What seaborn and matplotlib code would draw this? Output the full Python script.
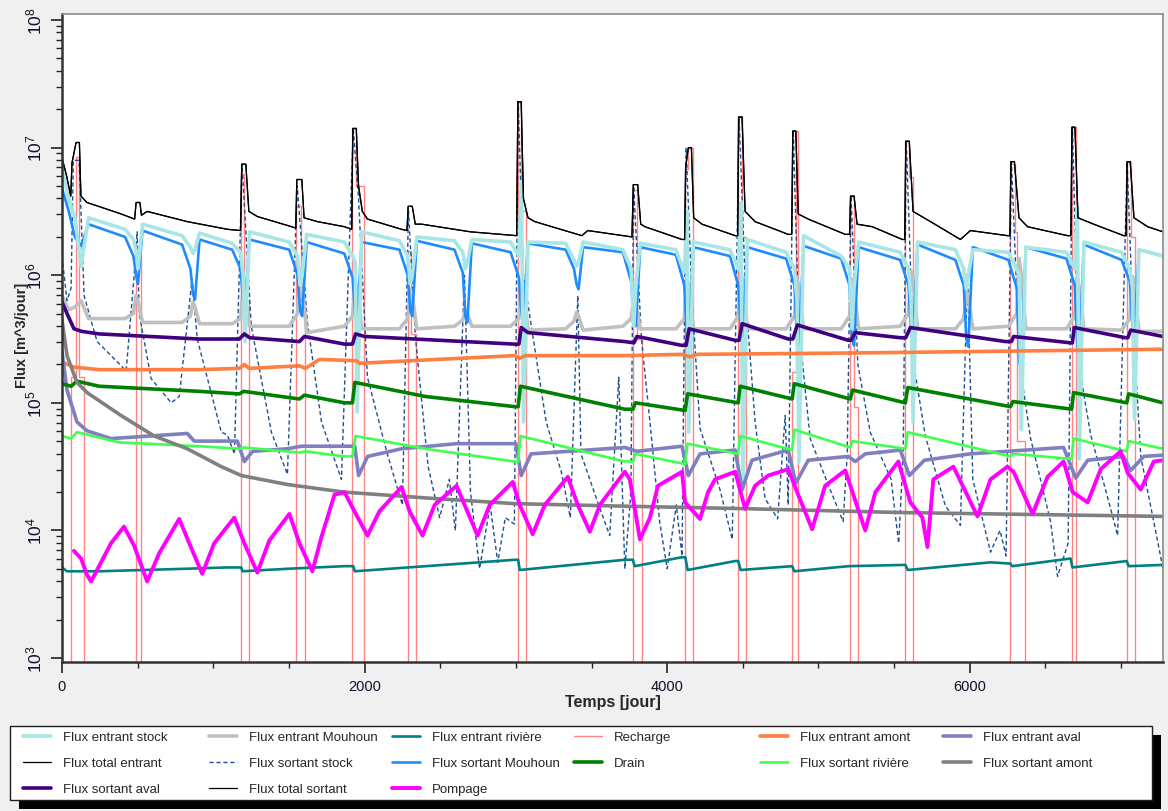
import numpy as np
import matplotlib
matplotlib.use("Agg")
import matplotlib.pyplot as plt
import seaborn as sns
from matplotlib.patches import Rectangle
from matplotlib.ticker import LogLocator, NullFormatter, MultipleLocator, LogFormatterMathtext

# ---- data (flux values stored as log10 of m^3/jour, time in jours) ----

# shared time grid for the seasonal series (5 points around each yearly low)
season_days = [0, 45, 85, 126, 175,
               417, 472, 489, 502, 532,
               794, 849, 866, 879, 909,
               1125, 1180, 1197, 1210, 1240,
               1502, 1557, 1574, 1587, 1617,
               1866, 1921, 1938, 1951, 1981,
               2230, 2285, 2302, 2315, 2345,
               2594, 2649, 2666, 2679, 2709,
               2965, 3020, 3037, 3050, 3080,
               3329, 3384, 3401, 3414, 3444,
               3707, 3762, 3779, 3792, 3822,
               4058, 4113, 4130, 4143, 4173,
               4415, 4470, 4487, 4500, 4530,
               4786, 4841, 4858, 4871, 4901,
               5150, 5205, 5222, 5235, 5265,
               5540, 5595, 5612, 5625, 5655,
               5905, 5960, 5977, 5990, 6020,
               6255, 6310, 6327, 6340, 6370,
               6639, 6694, 6711, 6724, 6754,
               7003, 7058, 7075, 7088, 7118,
               7277]

sortant_mouhoun = [6.68, 6.50, 6.30, 6.23, 6.40,
                   6.30, 6.15, 6.00, 5.93, 6.35,
                   6.24, 6.05, 5.85, 5.81, 6.28,
                   6.20, 6.05, 5.80, 5.76, 6.28,
                   6.20, 6.00, 5.72, 5.68, 6.26,
                   6.17, 5.98, 5.70, 5.66, 6.26,
                   6.20, 6.00, 5.72, 5.68, 6.27,
                   6.20, 6.02, 5.68, 5.63, 6.25,
                   6.18, 5.98, 5.70, 5.66, 6.25,
                   6.20, 6.05, 5.93, 5.89, 6.22,
                   6.18, 5.95, 5.65, 5.60, 6.22,
                   6.16, 5.92, 5.52, 5.48, 6.22,
                   6.15, 5.92, 5.56, 5.52, 6.22,
                   6.13, 5.92, 5.50, 5.45, 6.23,
                   6.13, 5.92, 5.50, 5.45, 6.22,
                   6.12, 5.92, 5.55, 5.50, 6.24,
                   6.12, 5.92, 5.50, 5.44, 6.22,
                   6.12, 5.90, 5.32, 5.26, 6.22,
                   6.13, 5.92, 5.42, 5.37, 6.24,
                   6.12, 5.95, 5.60, 5.55, 6.20,
                   6.15]

entrant_stock = [6.83, 6.60, 6.45, 6.07, 6.45,
                 6.36, 6.28, 6.20, 6.05, 6.40,
                 6.31, 6.22, 6.17, 6.20, 6.33,
                 6.25, 6.18, 6.00, 5.48, 6.34,
                 6.26, 6.15, 5.92, 6.00, 6.32,
                 6.26, 6.15, 6.10, 4.93, 6.34,
                 6.27, 6.15, 5.93, 6.00, 6.30,
                 6.27, 6.18, 6.05, 6.10, 6.28,
                 6.26, 6.15, 6.73, 4.85, 6.26,
                 6.25, 6.12, 6.07, 6.10, 6.26,
                 6.20, 6.05, 5.60, 5.90, 6.25,
                 6.20, 6.02, 6.50, 4.77, 6.26,
                 6.20, 6.05, 6.57, 4.32, 6.28,
                 6.18, 6.05, 5.80, 4.54, 6.31,
                 6.15, 6.05, 5.58, 5.90, 6.26,
                 6.18, 6.05, 5.80, 4.85, 6.26,
                 6.20, 6.05, 5.89, 6.00, 6.20,
                 6.18, 6.05, 6.00, 4.79, 6.22,
                 6.18, 6.05, 6.54, 4.56, 6.26,
                 6.18, 6.05, 5.90, 4.87, 6.20,
                 6.15]

entrant_mouhoun = [5.84, 5.73, 5.75, 5.80, 5.66,
                   5.66, 5.70, 5.84, 5.80, 5.63,
                   5.63, 5.68, 5.79, 5.75, 5.62,
                   5.62, 5.66, 5.89, 5.85, 5.60,
                   5.60, 5.70, 6.05, 5.95, 5.55,
                   5.60, 5.68, 5.95, 5.90, 5.58,
                   5.58, 5.66, 5.89, 5.85, 5.58,
                   5.60, 5.65, 5.73, 5.70, 5.60,
                   5.60, 5.66, 5.95, 5.90, 5.57,
                   5.58, 5.64, 5.71, 5.68, 5.57,
                   5.60, 5.66, 5.81, 5.78, 5.58,
                   5.58, 5.66, 5.99, 5.90, 5.58,
                   5.58, 5.68, 6.02, 5.95, 5.58,
                   5.58, 5.68, 5.97, 5.90, 5.58,
                   5.58, 5.68, 5.97, 5.90, 5.58,
                   5.60, 5.70, 6.03, 5.95, 5.58,
                   5.58, 5.66, 5.87, 5.82, 5.58,
                   5.60, 5.70, 6.13, 6.00, 5.58,
                   5.58, 5.68, 5.97, 5.90, 5.58,
                   5.57, 5.66, 5.99, 5.90, 5.56,
                   5.56]

total_days = [0, 30, 58, 66, 93, 115, 125, 165, 391, 480, 490, 515, 525, 563,
              828, 1092, 1180, 1188, 1215, 1235, 1291, 1490, 1545, 1552, 1585,
              1600, 1688, 1867, 1915, 1922, 1945, 1960, 1985, 2019, 2244, 2280,
              2288, 2315, 2335, 2377, 2700, 3005, 3013, 3035, 3050, 3080, 3125,
              3436, 3475, 3767, 3776, 3805, 3825, 3853, 4098, 4115, 4122, 4140,
              4160, 4175, 4230, 4449, 4466, 4472, 4495, 4515, 4581, 4800, 4823,
              4830, 4850, 4866, 4932, 5177, 5205, 5212, 5235, 5255, 5356, 5554,
              5570, 5577, 5600, 5625, 5740, 5938, 6004, 6249, 6265, 6272, 6295,
              6325, 6382, 6646, 6668, 6675, 6695, 6715, 6819, 7017, 7033, 7040,
              7060, 7085, 7176, 7277]
total_flux = [6.92, 6.78, 6.62, 6.88, 7.04, 7.04, 6.62, 6.57, 6.48, 6.44, 6.57,
              6.57, 6.47, 6.50, 6.42, 6.36, 6.35, 6.87, 6.87, 6.50, 6.46, 6.39,
              6.37, 6.75, 6.75, 6.45, 6.42, 6.38, 6.36, 7.15, 7.15, 6.70, 6.50,
              6.44, 6.36, 6.35, 6.54, 6.54, 6.40, 6.40, 6.34, 6.31, 7.36, 7.36,
              6.60, 6.45, 6.42, 6.31, 6.35, 6.30, 6.71, 6.71, 6.40, 6.38, 6.28,
              6.28, 6.85, 7.00, 7.00, 6.45, 6.40, 6.31, 6.31, 7.24, 7.24, 6.50,
              6.42, 6.32, 6.32, 7.13, 7.13, 6.48, 6.44, 6.32, 6.32, 6.62, 6.62,
              6.40, 6.38, 6.28, 6.28, 7.05, 7.05, 6.50, 6.42, 6.28, 6.35, 6.31,
              6.31, 6.89, 6.89, 6.45, 6.38, 6.31, 6.31, 7.16, 7.16, 6.45, 6.40,
              6.31, 6.31, 6.89, 6.89, 6.45, 6.38, 6.34]

stock_out_days = [0, 33, 60, 75, 113, 146, 232, 391, 424, 477, 497, 510, 589, 722,
                  775, 860, 894, 1053, 1092, 1140, 1190, 1251, 1384, 1490, 1555,
                  1622, 1715, 1847, 1925, 1960, 2019, 2150, 2250, 2290, 2337, 2420,
                  2496, 2560, 2600, 2660, 2700, 2760, 2830, 2880, 2930, 2990, 3015,
                  3050, 3200, 3300, 3360, 3409, 3430, 3550, 3620, 3680, 3720, 3760,
                  3778, 3830, 3886, 3950, 4000, 4060, 4098, 4125, 4165, 4217, 4349,
                  4430, 4475, 4520, 4581, 4647, 4730, 4780, 4800, 4833, 4870, 4945,
                  5077, 5163, 5190, 5215, 5260, 5342, 5480, 5530, 5560, 5580, 5630,
                  5706, 5839, 5938, 5985, 6020, 6137, 6200, 6240, 6275, 6330, 6402,
                  6534, 6580, 6650, 6678, 6720, 6799, 6931, 6977, 7040, 7080, 7130,
                  7229, 7277]
stock_out = [6.15, 5.80, 5.90, 6.90, 6.90, 5.84, 5.48, 5.29, 5.25, 6.00, 6.34,
             5.70, 5.19, 5.00, 5.05, 5.97, 5.50, 4.77, 4.75, 4.60, 6.87, 5.60,
             4.77, 4.44, 6.70, 5.63, 4.85, 4.40, 7.15, 6.60, 5.20, 4.60, 4.20,
             6.50, 5.50, 4.50, 4.10, 4.40, 4.00, 6.00, 4.30, 3.70, 4.20, 3.75,
             4.10, 4.05, 7.36, 6.00, 4.85, 4.46, 4.10, 5.84, 4.60, 4.19, 3.96,
             5.20, 3.70, 4.30, 6.70, 5.50, 4.85, 4.07, 3.70, 4.20, 3.80, 7.00,
             5.80, 4.80, 4.32, 3.93, 7.24, 5.80, 4.85, 4.25, 4.09, 4.90, 4.20,
             7.13, 5.60, 4.72, 4.32, 4.07, 4.60, 6.62, 5.30, 4.77, 4.40, 3.90,
             4.60, 7.05, 5.30, 4.74, 4.19, 4.04, 6.02, 4.40, 3.83, 4.00, 3.80,
             6.89, 5.30, 4.72, 4.07, 3.64, 3.90, 7.16, 5.30, 4.75, 4.17, 3.96,
             6.89, 5.60, 4.58, 3.99, 3.70]

recharge_days = [0, 60, 93, 115, 146, 490, 523, 1185, 1205, 1238, 1549, 1580,
                 1609, 1920, 1945, 1993, 2284, 2310, 2337, 3012, 3035, 3065,
                 3773, 3800, 3833, 4118, 4140, 4171, 4469, 4495, 4521, 4826,
                 4850, 4866, 5210, 5237, 5263, 5574, 5600, 5627, 6269, 6300,
                 6315, 6368, 6673, 6700, 7037, 7063, 7090, 7277]
recharge = [0, 5.20, 6.93, 5.20, 0, 6.15, 0, 6.79, 5.80, 0, 6.54, 5.80,
            0, 7.15, 6.70, 0, 6.19, 5.54, 0, 7.36, 6.50, 0,
            6.67, 5.50, 0, 6.83, 7.00, 0, 7.24, 6.30, 0, 5.24,
            7.13, 0, 6.62, 4.97, 0, 7.05, 6.77, 0, 6.87, 6.34,
            4.70, 0, 7.16, 0, 6.89, 6.30, 0, 0]

aval_out_days = [0, 33, 79, 130, 245, 907, 1172, 1205, 1240, 1569, 1602, 1867,
                 1920, 1940, 2000, 2992, 3020, 3035, 3080, 3720, 3780, 3800,
                 4098, 4125, 4145, 4449, 4475, 4495, 4800, 4830, 4860, 5197,
                 5215, 5243, 5541, 5577, 5607, 6236, 6275, 6290, 6666, 6678,
                 6690, 7030, 7045, 7063, 7277]
aval_out = [5.79, 5.70, 5.58, 5.56, 5.54, 5.50, 5.50, 5.54, 5.51, 5.48, 5.52,
            5.46, 5.46, 5.54, 5.52, 5.46, 5.46, 5.59, 5.55, 5.48, 5.47, 5.52,
            5.45, 5.45, 5.58, 5.49, 5.49, 5.62, 5.50, 5.50, 5.61, 5.49,
            5.49, 5.55, 5.51, 5.51, 5.59, 5.48, 5.48, 5.52, 5.47, 5.47,
            5.59, 5.51, 5.51, 5.57, 5.52]

amont_in_days = [0, 79, 245, 907, 1172, 1205, 1238, 1569, 1609, 1701, 1946,
                 1966, 2992, 3025, 3065, 3720, 4098, 4151, 4200, 5177, 5900, 7277]
amont_in = [5.32, 5.28, 5.26, 5.26, 5.27, 5.30, 5.27, 5.29, 5.27, 5.34, 5.33,
            5.31, 5.37, 5.35, 5.37, 5.37, 5.38, 5.36, 5.38, 5.39, 5.40, 5.42]

drain_days = [0, 60, 99, 245, 907, 1172, 1200, 1569, 1602, 1867, 1920, 1935,
              2400, 2992, 3015, 3030, 3720, 3773, 3790, 4118, 4135, 4469, 4482,
              4826, 4840, 5210, 5225, 5574, 5590, 6269, 6285, 6673, 6686, 7037,
              7050, 7277]
drain = [5.15, 5.13, 5.17, 5.13, 5.09, 5.07, 5.09, 5.03, 5.06, 5.00, 5.00, 5.16,
         5.05, 4.97, 4.97, 5.13, 4.95, 4.95, 5.00, 4.94, 5.07, 5.00, 5.13,
         5.03, 5.15, 5.03, 5.10, 5.00, 5.12, 4.97, 5.01, 4.95, 5.08, 5.00,
         5.07, 5.00]

riviere_out_days = [0, 60, 99, 377, 907, 1172, 1205, 1569, 1609, 1867, 1920,
                    1940, 2400, 2992, 3015, 3030, 3720, 3773, 3790, 4118, 4135,
                    4469, 4482, 4826, 4840, 5210, 5225, 5574, 5590, 6269, 6285,
                    6673, 6686, 7037, 7050, 7277]
riviere_out = [4.74, 4.72, 4.77, 4.69, 4.66, 4.64, 4.65, 4.61, 4.62, 4.58, 4.58,
               4.74, 4.64, 4.54, 4.54, 4.74, 4.54, 4.54, 4.60, 4.52, 4.68,
               4.60, 4.74, 4.63, 4.79, 4.65, 4.70, 4.64, 4.77, 4.58, 4.60,
               4.56, 4.72, 4.62, 4.70, 4.64]

aval_in_days = [0, 33, 99, 166, 324, 457, 828, 874, 1159, 1205, 1260, 1490,
                1582, 1867, 1935, 1960, 2020, 2244, 2608, 3000, 3035, 3100,
                3720, 3800, 4098, 4140, 4217, 4449, 4495, 4560, 4800, 4850,
                4932, 5197, 5243, 5309, 5541, 5600, 5700, 6000, 6620, 6700,
                6779, 7017, 7063, 7150, 7277]
aval_in = [5.40, 5.10, 4.85, 4.78, 4.72, 4.73, 4.76, 4.70, 4.70, 4.54, 4.62,
           4.64, 4.66, 4.66, 4.66, 4.43, 4.58, 4.64, 4.68, 4.68, 4.43, 4.60,
           4.65, 4.62, 4.66, 4.43, 4.60, 4.63, 4.32, 4.55, 4.63, 4.37,
           4.55, 4.58, 4.54, 4.60, 4.63, 4.43, 4.55, 4.60, 4.65, 4.41,
           4.55, 4.58, 4.47, 4.58, 4.59]

amont_out_days = [0, 33, 99, 166, 391, 609, 828, 1053, 1185, 1490, 1867, 2463,
                  2992, 3720, 4535, 5554, 7277]
amont_out = [5.65, 5.37, 5.16, 5.08, 4.90, 4.74, 4.64, 4.50, 4.43, 4.36, 4.30,
             4.25, 4.21, 4.19, 4.17, 4.14, 4.11]

riviere_in_days = [0, 33, 245, 828, 1092, 1185, 1192, 1500, 1867, 1925, 1935,
                   2992, 3015, 3025, 3720, 3773, 3785, 4098, 4120, 4135, 4449,
                   4470, 4485, 4826, 4840, 5200, 5574, 5590, 6137, 6269, 6280,
                   6666, 6678, 7037, 7050, 7277]
riviere_in = [3.71, 3.68, 3.68, 3.70, 3.71, 3.71, 3.68, 3.70, 3.72, 3.72, 3.68,
              3.77, 3.77, 3.69, 3.77, 3.77, 3.72, 3.79, 3.79, 3.69, 3.76,
              3.76, 3.69, 3.72, 3.68, 3.72, 3.73, 3.69, 3.75, 3.74, 3.72,
              3.78, 3.71, 3.76, 3.72, 3.73]

pompage_days = [79, 126, 166, 192, 245, 324, 410, 477, 563, 642, 775, 841, 927,
                1006, 1139, 1205, 1291, 1370, 1503, 1569, 1655, 1715, 1801, 1867,
                1933, 2019, 2098, 2244, 2297, 2383, 2463, 2608, 2661, 2747, 2827,
                2979, 3025, 3111, 3191, 3343, 3409, 3489, 3555, 3720, 3753, 3820,
                3886, 3939, 4098, 4118, 4217, 4270, 4316, 4449, 4515, 4581, 4667,
                4800, 4859, 4958, 5044, 5177, 5309, 5376, 5528, 5607, 5687, 5720,
                5759, 5892, 6051, 6137, 6249, 6289, 6415, 6514, 6620, 6680, 6779,
                6865, 6997, 7044, 7130, 7216, 7277]
pompage = [3.84, 3.78, 3.65, 3.60, 3.72, 3.90, 4.03, 3.88, 3.60, 3.82, 4.09,
           3.90, 3.66, 3.90, 4.10, 3.90, 3.67, 3.92, 4.13, 3.90, 3.68, 3.95,
           4.28, 4.30, 4.15, 3.96, 4.15, 4.34, 4.15, 3.96, 4.20, 4.35, 4.20,
           3.96, 4.20, 4.38, 4.20, 3.97, 4.20, 4.42, 4.20, 3.99, 4.20, 4.46,
           4.40, 3.93, 4.10, 4.35, 4.46, 4.22, 4.09, 4.30, 4.40, 4.46, 4.17,
           4.35, 4.43, 4.48, 4.30, 4.01, 4.35, 4.47, 4.00, 4.30, 4.54, 4.22,
           4.10, 3.87, 4.40, 4.50, 4.11, 4.40, 4.50, 4.46, 4.13, 4.42, 4.54,
           4.30, 4.22, 4.48, 4.62, 4.45, 4.32, 4.54, 4.55]

# ---- figure ----
sns.set_theme(style="ticks")
plt.rcParams["font.family"] = ["Liberation Sans", "DejaVu Sans"]

W, H = 1168, 812
fig = plt.figure(figsize=(W / 100, H / 100), dpi=100, facecolor="#f0f0f0")
ax = fig.add_axes([62 / W, 1 - 663 / H, 1101 / W, 648 / H])
ax.set_facecolor("white")


def draw(days, logs, color, lw, label, **kw):
    sns.lineplot(x=np.asarray(days, dtype=float), y=10.0 ** np.asarray(logs, dtype=float),
                 ax=ax, color=color, linewidth=lw, label=label, estimator=None,
                 sort=False, errorbar=None, legend=False, **kw)


draw(recharge_days, recharge, "#ff8585", 1.0, "Recharge", drawstyle="steps-post")
draw(stock_out_days, stock_out, "#1f4f8f", 1.0, "Flux sortant stock", linestyle=(0, (3, 2)))
draw(season_days, entrant_mouhoun, "#c0c0c0", 2.6, "Flux entrant Mouhoun")
draw(season_days, sortant_mouhoun, "#1e8cff", 1.9, "Flux sortant Mouhoun")
draw(season_days, entrant_stock, "#a8e6e6", 2.6, "Flux entrant stock")
draw(total_days, total_flux, "black", 0.9, "Flux total entrant")
draw(total_days, total_flux, "black", 0.9, "Flux total sortant")
draw(riviere_in_days, riviere_in, "#008080", 1.9, "Flux entrant rivière")
draw(amont_in_days, amont_in, "#ff7f40", 2.6, "Flux entrant amont")
draw(aval_in_days, aval_in, "#8080c0", 2.6, "Flux entrant aval")
draw(drain_days, drain, "#008000", 2.6, "Drain")
draw(riviere_out_days, riviere_out, "#40ff50", 1.9, "Flux sortant rivière")
draw(amont_out_days, amont_out, "#808080", 2.6, "Flux sortant amont")
draw(aval_out_days, aval_out, "#400080", 2.6, "Flux sortant aval")
draw(pompage_days, pompage, "#ff00ff", 2.8, "Pompage")

# axes
ax.set_yscale("log")
ax.set_ylim(10 ** 2.969, 10 ** 8.047)
ax.set_xlim(0, 7277)
ax.yaxis.set_major_locator(LogLocator(base=10, numticks=12))
ax.yaxis.set_major_formatter(LogFormatterMathtext())
ax.yaxis.set_minor_locator(LogLocator(base=10, subs=np.arange(2, 10), numticks=40))
ax.yaxis.set_minor_formatter(NullFormatter())
ax.xaxis.set_major_locator(MultipleLocator(2000))
ax.xaxis.set_minor_locator(MultipleLocator(500))

ax.tick_params(axis="both", which="major", length=8, width=1.2, colors="#222222",
               labelsize=10.5, labelcolor="#101028", direction="out")
ax.tick_params(axis="both", which="minor", length=4.5, width=1.0, colors="#222222",
               direction="out")
ax.tick_params(axis="y", which="major", labelrotation=90, labelsize=12.5, pad=5)
ax.tick_params(axis="x", which="major", pad=4)
plt.setp(ax.get_yticklabels(), va="center")

for side in ("left", "bottom"):
    ax.spines[side].set_color("#333333")
    ax.spines[side].set_linewidth(1.8)
for side in ("top", "right"):
    ax.spines[side].set_color("#8c8c8c")
    ax.spines[side].set_linewidth(1.2)

ax.set_ylabel("Flux [m^3/jour]", fontsize=10.5, fontweight="bold", va="center")
ax.yaxis.set_label_coords((22 - 62) / 1101, (663 - 335) / 648)
ax.set_xlabel("Temps [jour]", fontsize=11.5, fontweight="bold", va="center")
ax.xaxis.set_label_coords((613 - 62) / 1101, (663 - 703) / 648)

# legend: six fixed columns inside one framed box with a black shadow
handles = dict(zip(ax.get_legend_handles_labels()[1], ax.get_legend_handles_labels()[0]))
legend_cols = [
    ["Flux entrant stock", "Flux total entrant", "Flux sortant aval"],
    ["Flux entrant Mouhoun", "Flux sortant stock", "Flux total sortant"],
    ["Flux entrant rivière", "Flux sortant Mouhoun", "Pompage"],
    ["Recharge", "Drain"],
    ["Flux entrant amont", "Flux sortant rivière"],
    ["Flux entrant aval", "Flux sortant amont"],
]
col_x = [23, 209, 392, 574, 760, 943]

fig.add_artist(Rectangle((19 / W, 1 - 810 / H), 1142 / W, 74 / H,
                         transform=fig.transFigure, facecolor="black",
                         edgecolor="none", zorder=1))
fig.add_artist(Rectangle((10 / W, 1 - 801 / H), 1142 / W, 74 / H,
                         transform=fig.transFigure, facecolor="white",
                         edgecolor="#202020", linewidth=1.0, zorder=2))
for labels, x in zip(legend_cols, col_x):
    fig.legend([handles[l] for l in labels], labels, loc="upper left",
               bbox_to_anchor=(x / W, 1 - 732 / H), frameon=False, fontsize=9.5,
               handlelength=2.1, handletextpad=0.9, labelspacing=1.05,
               borderpad=0, borderaxespad=0)

fig.savefig("out.png", dpi=100, facecolor=fig.get_facecolor())
